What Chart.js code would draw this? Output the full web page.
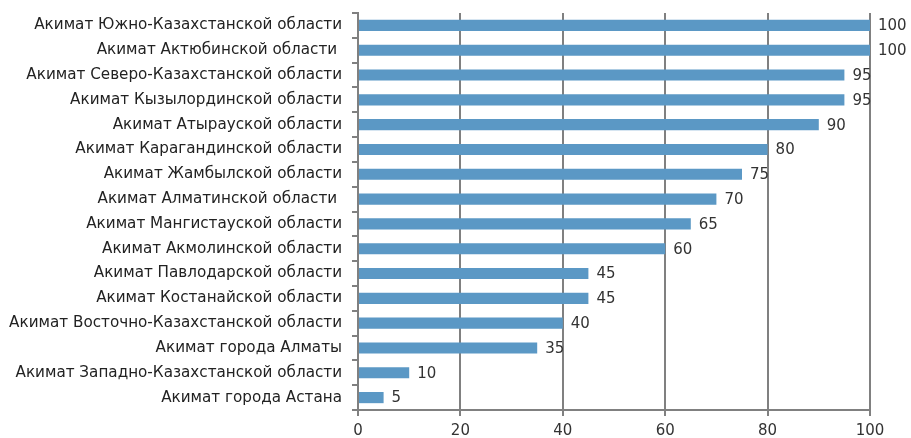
<!DOCTYPE html>
<html>
<head>
<meta charset="utf-8">
<script src="https://cdn.jsdelivr.net/npm/chart.js@4/dist/chart.umd.min.js"></script>
<style>
  html, body { margin: 0; padding: 0; background: #fff; }
  #wrap { width: 911px; height: 438px; }
</style>
</head>
<body>
<div id="wrap"><canvas id="barChart"></canvas></div>
<script>
var categories = [
    "Акимат Южно-Казахстанской области",
    "Акимат Актюбинской области ",
    "Акимат Северо-Казахстанской области",
    "Акимат Кызылординской области",
    "Акимат Атырауской области",
    "Акимат Карагандинской области",
    "Акимат Жамбылской области",
    "Акимат Алматинской области ",
    "Акимат Мангистауской области",
    "Акимат Акмолинской области",
    "Акимат Павлодарской области",
    "Акимат Костанайской области",
    "Акимат Восточно-Казахстанской области",
    "Акимат города Алматы",
    "Акимат Западно-Казахстанской области",
    "Акимат города Астана"
];
var values = [100, 100, 95, 95, 90, 80, 75, 70, 65, 60, 45, 45, 40, 35, 10, 5];
var xTicks = [0, 20, 40, 60, 80, 100];

// draws the number next to each bar
var valueLabels = {
    id: 'valueLabels',
    afterDatasetsDraw: function (chart) {
        var ctx = chart.ctx;
        var meta = chart.getDatasetMeta(0);
        ctx.save();
        ctx.font = '15px "DejaVu Sans"';
        ctx.fillStyle = '#333';
        ctx.textAlign = 'left';
        ctx.textBaseline = 'middle';
        meta.data.forEach(function (bar, i) {
            ctx.fillText(values[i], bar.x + 8, bar.y + 1);
        });
        ctx.restore();
    }
};

var barCanvas = document.getElementById("barChart").getContext("2d");

var newChart = new Chart(barCanvas, {
    type: 'bar',
    data: {
        labels: categories,
        datasets: [{
            data: values,
            backgroundColor: "#5b98c5",
            barPercentage: 0.45,
            categoryPercentage: 1
        }]
    },
    options: {
        indexAxis: 'y',
        responsive: true,
        maintainAspectRatio: false,
        animation: false,
        layout: { padding: { top: 13, right: 41, left: 0, bottom: 0 } },
        plugins: {
            legend: { display: false },
            tooltip: { enabled: false }
        },
        scales: {
            x: {
                min: 0,
                max: 100,
                afterBuildTicks: function (scale) {
                    scale.ticks = xTicks.map(function (v) { return { value: v }; });
                },
                afterFit: function (scale) {
                    scale.height = 28;
                    scale.paddingLeft = 0;
                    scale.paddingRight = 0;
                },
                grid: { color: '#808080', lineWidth: 2, tickLength: 6 },
                border: { color: '#808080', width: 2 },
                ticks: { color: '#333', font: { family: 'DejaVu Sans', size: 15 }, padding: 6 }
            },
            y: {
                afterFit: function (scale) {
                    scale.width = 358;
                    scale.paddingTop = 0;
                    scale.paddingBottom = 0;
                },
                grid: { drawOnChartArea: false, color: '#808080', lineWidth: 2, tickLength: 6 },
                border: { color: '#808080', width: 2 },
                ticks: { color: '#222', font: { family: 'DejaVu Sans', size: 15.2 }, padding: 10, autoSkip: false }
            }
        }
    },
    plugins: [valueLabels]
});
</script>
</body>
</html>
